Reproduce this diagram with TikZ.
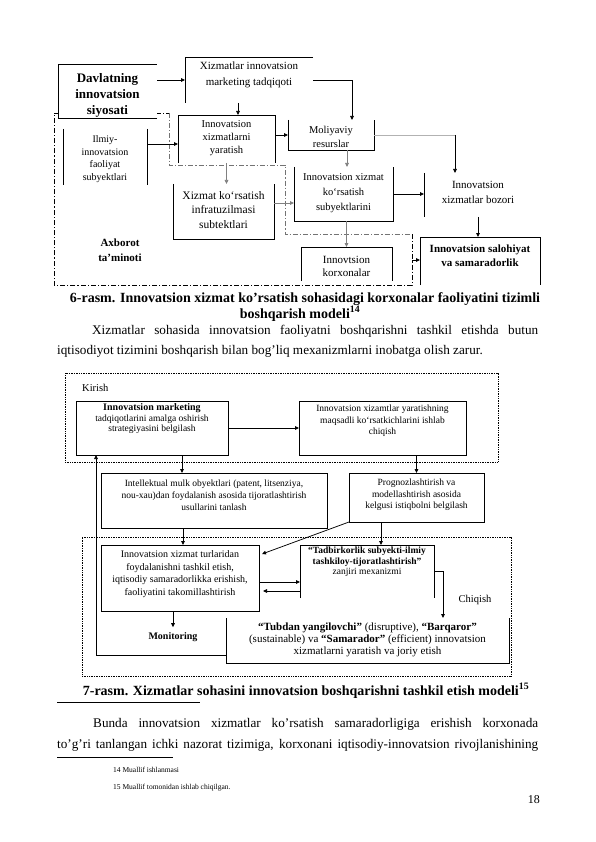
\documentclass[tikz,border=0pt]{standalone}
\usepackage{fontspec}
\setmainfont{Liberation Serif}
\usetikzlibrary{arrows.meta}
\newcommand\fs[2]{\fontsize{#1}{#2}\selectfont}
\begin{document}
\begin{tikzpicture}[x=1pt,y=-1pt,
  ln/.style={line width=0.75pt},
  arr/.style={line width=0.75pt,-{Triangle[length=4pt,width=3.6pt]}},
  garr/.style={arr,draw=black!50},
  bx/.style={inner sep=0pt,outer sep=0pt,align=center},
  tx/.style={inner sep=0pt,align=center},
  ddash/.style={line width=0.7pt,dash pattern=on 5pt off 2pt on 1.2pt off 2pt},
  dots/.style={line width=1pt,dash pattern=on 0.8pt off 0.9pt}]
\useasboundingbox[fill=white] (0,0) rectangle (595,842);

% ---------------- Diagram 1 ----------------
\draw[ddash] (54,113) -- (169,113);
\draw[ddash,draw=black!55] (169,113) -- (169,165) -- (285,165) -- (285,234) -- (412,234);
\draw[ddash] (412,234) -- (412,285) -- (54,285) -- (54,113);
\coordinate (ddr) at (412,260);

\node[bx,fill=white,minimum width=99pt,minimum height=54pt] (dav) at (107.5,91) {};
\node[tx,font=\bfseries\fs{13}{16}] (davT) at (107.5,95) {Davlatning\\innovatsion\\siyosati};
\draw[ln] (dav.south east) -- (dav.south west) -- (dav.north west) -- (dav.north east);

\node[bx,minimum width=128pt,minimum height=46pt] (xmt) at (249,80) {};
\node[tx,font=\fs{11}{16}] (xmtT) at (249,75) {Xizmatlar innovatsion\\marketing tadqiqoti};
\draw[ln] (xmt.north east) -- (xmt.north west) -- (xmt.south west);

\node[bx,minimum width=97pt,minimum height=48pt] (ixy) at (226.5,139) {};
\node[tx,font=\fs{10.5}{13}] (ixyT) at (226.5,138) {Innovatsion\\xizmatlarni\\yaratish};
\draw[ln] (ixy.south west) -- (ixy.north west) -- (ixy.north east) -- (ixy.south east);

\node[bx,minimum width=86pt,minimum height=30pt] (mol) at (331,135) {};
\node[tx,font=\fs{10.5}{14}] (molT) at (331,137) {Moliyaviy\\resurslar};
\draw[ln] (mol.north west) -- (mol.south west) -- (mol.south east) -- (mol.north east);

\node[bx,minimum width=84pt,minimum height=56pt] (ilm) at (105,157) {};
\node[tx,font=\fs{10}{12.5}] (ilmT) at (105,159) {Ilmiy-\\innovatsion\\faoliyat\\subyektlari};
\draw[ln] (ilm.north west) -- (ilm.south west);
\draw[ln] (ilm.north east) -- (ilm.south east);

\node[bx,minimum width=101pt,minimum height=55pt] (xki) at (223.5,211.5) {};
\node[tx,font=\fs{11.5}{14.5}] (xkiT) at (223.5,210) {Xizmat ko‘rsatish\\infratuzilmasi\\subtektlari};
\draw[ln] (xki.north west) -- (xki.south west) -- (xki.south east) -- (xki.north east);

\node[bx,minimum width=99pt,minimum height=54pt] (iks) at (343.5,194) {};
\node[tx,font=\fs{10.5}{15}] (iksT) at (343.5,193) {Innovatsion xizmat\\ko‘rsatish\\subyektlarini};
\draw[ln] (iks.north west) -- (iks.south west) -- (iks.south east) -- (iks.north east);

\node[bx,minimum width=108pt,minimum height=44pt] (boz) at (478,195) {};
\node[tx,font=\fs{11}{15}] (bozT) at (478,192.5) {Innovatsion\\xizmatlar bozori};
\draw[ln] (boz.north west) -- (boz.south west);
\coordinate (bozin) at ([xshift=-23pt]boz.north);

\node[bx,minimum width=120pt,minimum height=48pt] (sal) at (480,261) {};
\node[tx,font=\bfseries\fs{11}{14}] (salT) at (480,255.5) {Innovatsion salohiyat\\va samaradorlik};
\draw[ln] (sal.south west) -- (sal.north west) -- (sal.north east) -- (sal.south east);

\node[bx,minimum width=91pt,minimum height=34pt] (ikx) at (346.5,264) {};
\node[tx,font=\fs{11}{13}] (ikxT) at (346.5,266) {Innovtsion\\korxonalar};
\draw[ln] (ikx.south west) -- (ikx.north west) -- (ikx.north east) -- (ikx.south east);

\node[tx,font=\bfseries\fs{11}{15}] (axb) at (120,250.5) {Axborot\\ta’minoti};

% connectors
\draw[arr] (dav.east |- xmt.west) -- (xmt.west);
\draw[arr] (xmt.east) -| ([xshift=21pt]mol.north);
\draw[arr] ([xshift=11.5pt]ixy.north |- xmt.south) -- ([xshift=11.5pt]ixy.north);
\draw[arr] (ixy.east |- mol.west) -- (mol.west);
\draw[arr] ([yshift=13pt]ilm.east) -- ([yshift=13pt]ilm.east -| ixy.west);
\draw[line width=0.6pt,black!30] (mol.east) -- (mol.east -| bozin);
\draw[arr] (mol.east -| bozin) -- (bozin);
\draw[garr] ([xshift=16pt]mol.south) -- ([xshift=16pt]mol.south |- iks.north);
\draw[garr] (ixy.south) -- (ixy.south |- xki.north);
\draw[garr] ([yshift=8.5pt]xki.east) -- ([yshift=8.5pt]xki.east -| iks.west);
\draw[arr] (iks.east) -- (iks.east -| boz.west);
\draw[arr] (boz.south) -- (boz.south |- sal.north);
\draw[garr] ([xshift=3pt]iks.south) -- ([xshift=3pt]iks.south |- ikx.north);
\draw[arr] (ddr) -- (ddr -| sal.west);

% caption 6 and text
\node[anchor=base,inner sep=0pt,font=\bfseries\fs{14}{16}] (cap6a) at (305,302) {6-rasm. Innovatsion xizmat ko’rsatish sohasidagi korxonalar faoliyatini tizimli};
\node[anchor=base,inner sep=0pt,font=\bfseries\fs{14}{16}] (cap6b) at (300,318) {boshqarish modeli\textsuperscript{14}};
\node[anchor=base west,inner sep=0pt,font=\fs{13.2}{15}] (p1a) at (92,334) {\makebox[446pt][s]{Xizmatlar sohasida innovatsion faoliyatni boshqarishni tashkil etishda butun}};
\node[anchor=base west,inner sep=0pt,font=\fs{13.2}{15}] (p1b) at (57,354) {iqtisodiyot tizimini boshqarish bilan bog’liq mexanizmlarni inobatga olish zarur.};

% ---------------- Diagram 2 ----------------
\node[bx,draw,dots,minimum width=433pt,minimum height=89pt] (kirB) at (281.5,417.5) {};
\node[anchor=west,inner sep=0pt,font=\fs{10.5}{12}] (kirT) at (82,388) {Kirish};

\node[bx,draw,ln,minimum width=152pt,minimum height=54pt] (mkt) at (152,428) {};
\node[tx,font=\fs{9.5}{10.5}] (mktT) at (152,419) {{\bfseries\fs{10}{10.5}Innovatsion marketing}\\tadqiqotlarini amalga oshirish\\strategiyasini belgilash};

\node[bx,draw,ln,minimum width=167pt,minimum height=54pt] (mqs) at (382.5,428) {};
\node[tx,font=\fs{9.5}{11.5}] (mqsT) at (382.5,421) {Innovatsion xizamtlar yaratishning\\maqsadli ko‘rsatkichlarini ishlab\\chiqish};

\node[bx,draw,ln,minimum width=226pt,minimum height=55pt] (int) at (214,500.5) {};
\node[tx,font=\fs{9.5}{12}] (intT) at (214,495) {Intellektual mulk obyektlari (patent, litsenziya,\\nou-xau)dan foydalanish asosida tijoratlashtirish\\usullarini tanlash};

\node[bx,draw,ln,minimum width=135pt,minimum height=49pt] (prg) at (416.5,497.5) {};
\node[tx,font=\fs{9.5}{11.5}] (prgT) at (416.5,495) {Prognozlashtirish va\\modellashtirish asosida\\kelgusi istiqbolni belgilash};

\node[bx,draw,dots,minimum width=429pt,minimum height=139pt] (outB) at (296.5,606.5) {};

\node[bx,draw,ln,fill=white,minimum width=158pt,minimum height=66pt] (tur) at (180,578) {};
\node[tx,font=\fs{10}{12.7}] (turT) at (180,574) {Innovatsion xizmat turlaridan\\foydalanishni tashkil etish,\\iqtisodiy samaradorlikka erishish,\\faoliyatini takomillashtirish};

\node[bx,fill=white,minimum width=134pt,minimum height=53pt] (tad) at (367,571.5) {};
\node[tx,font=\fs{9.5}{10.5}] (tadT) at (367,562) {\textbf{“Tadbirkorlik subyekti-ilmiy}\\\textbf{tashkiloy-tijoratlashtirish”}\\zanjiri mexanizmi};
\draw[ln] (tad.south west) -- (tad.north west) -- (tad.north east) -- (tad.south east);

\node[bx,fill=white,minimum width=283pt,minimum height=45pt] (tub) at (367.5,640.5) {};
\node[tx,font=\fs{11}{12}] (tubT) at (367.5,640) {\textbf{“Tubdan yangilovchi”} (disruptive), \textbf{“Barqaror”}\\(sustainable) va \textbf{“Samarador”} (efficient) innovatsion\\xizmatlarni yaratish va joriy etish};
\draw[ln] (tub.north west) -- (tub.south west) -- (tub.south east) -- (tub.north east);

\node[tx,font=\bfseries\fs{10}{12}] (mon) at (173,637) {Monitoring};
\node[tx,font=\fs{10.5}{12}] (chq) at (475,600) {Chiqish};

\draw[arr] (mkt.east) -- (mqs.west);
\draw[arr] ([xshift=30pt]mkt.south) -- ([xshift=30pt]mkt.south |- int.north);
\draw[arr] (prg.north |- mqs.south) -- (prg.north);
\draw[arr] ([xshift=-31pt]int.south) -- ([xshift=-31pt]int.south |- tur.north);
\draw[arr] ([xshift=-35.5pt]prg.south) -- ([xshift=-35.5pt]prg.south |- tad.north);
\draw[arr] (prg.south west) -- ([xshift=3pt,yshift=-9pt]tur.north east);
\draw[arr] ([yshift=-4pt]tur.east) -- ([yshift=-4pt]tur.east -| tad.west);
\draw[arr] ([yshift=-13pt]tur.east -| tad.west) -- ([xshift=4pt,yshift=-13pt]tur.east);
\draw[arr] (tad.east) -| ([xshift=75.5pt]tub.north);
\draw[arr] ([xshift=-7pt]tur.south) -- ([yshift=5pt]mon.north);
\draw[arr] ([yshift=-14.5pt]tub.west) -| ([xshift=-56pt]mkt.south);

% caption 7, text, footnotes
\node[anchor=base,inner sep=0pt,font=\bfseries\fs{14}{16}] (cap7) at (306,695) {7-rasm. Xizmatlar sohasini innovatsion boshqarishni tashkil etish modeli\textsuperscript{15}};
\draw[line width=0.5pt] (57,702) -- (200,702);
\node[anchor=base west,inner sep=0pt,font=\fs{13.2}{15}] (p2a) at (93,727) {\makebox[445pt][s]{Bunda innovatsion xizmatlar ko’rsatish samaradorligiga erishish korxonada}};
\node[anchor=base west,inner sep=0pt,font=\fs{13.2}{15}] (p2b) at (57,748) {\makebox[481pt][s]{to’g’ri tanlangan ichki nazorat tizimiga, korxonani iqtisodiy-innovatsion rivojlanishining}};
\draw[line width=0.5pt] (57,757) -- (173,757);
\node[anchor=base west,inner sep=0pt,font=\fs{7.5}{9}] (fn14) at (113,772) {14 Muallif ishlanmasi};
\node[anchor=base west,inner sep=0pt,font=\fs{7.5}{9}] (fn15) at (113,789) {15 Muallif tomonidan ishlab chiqilgan.};
\node[anchor=base east,inner sep=0pt,font=\fs{12}{14}] (pg) at (540,803) {18};
\end{tikzpicture}
\end{document}
